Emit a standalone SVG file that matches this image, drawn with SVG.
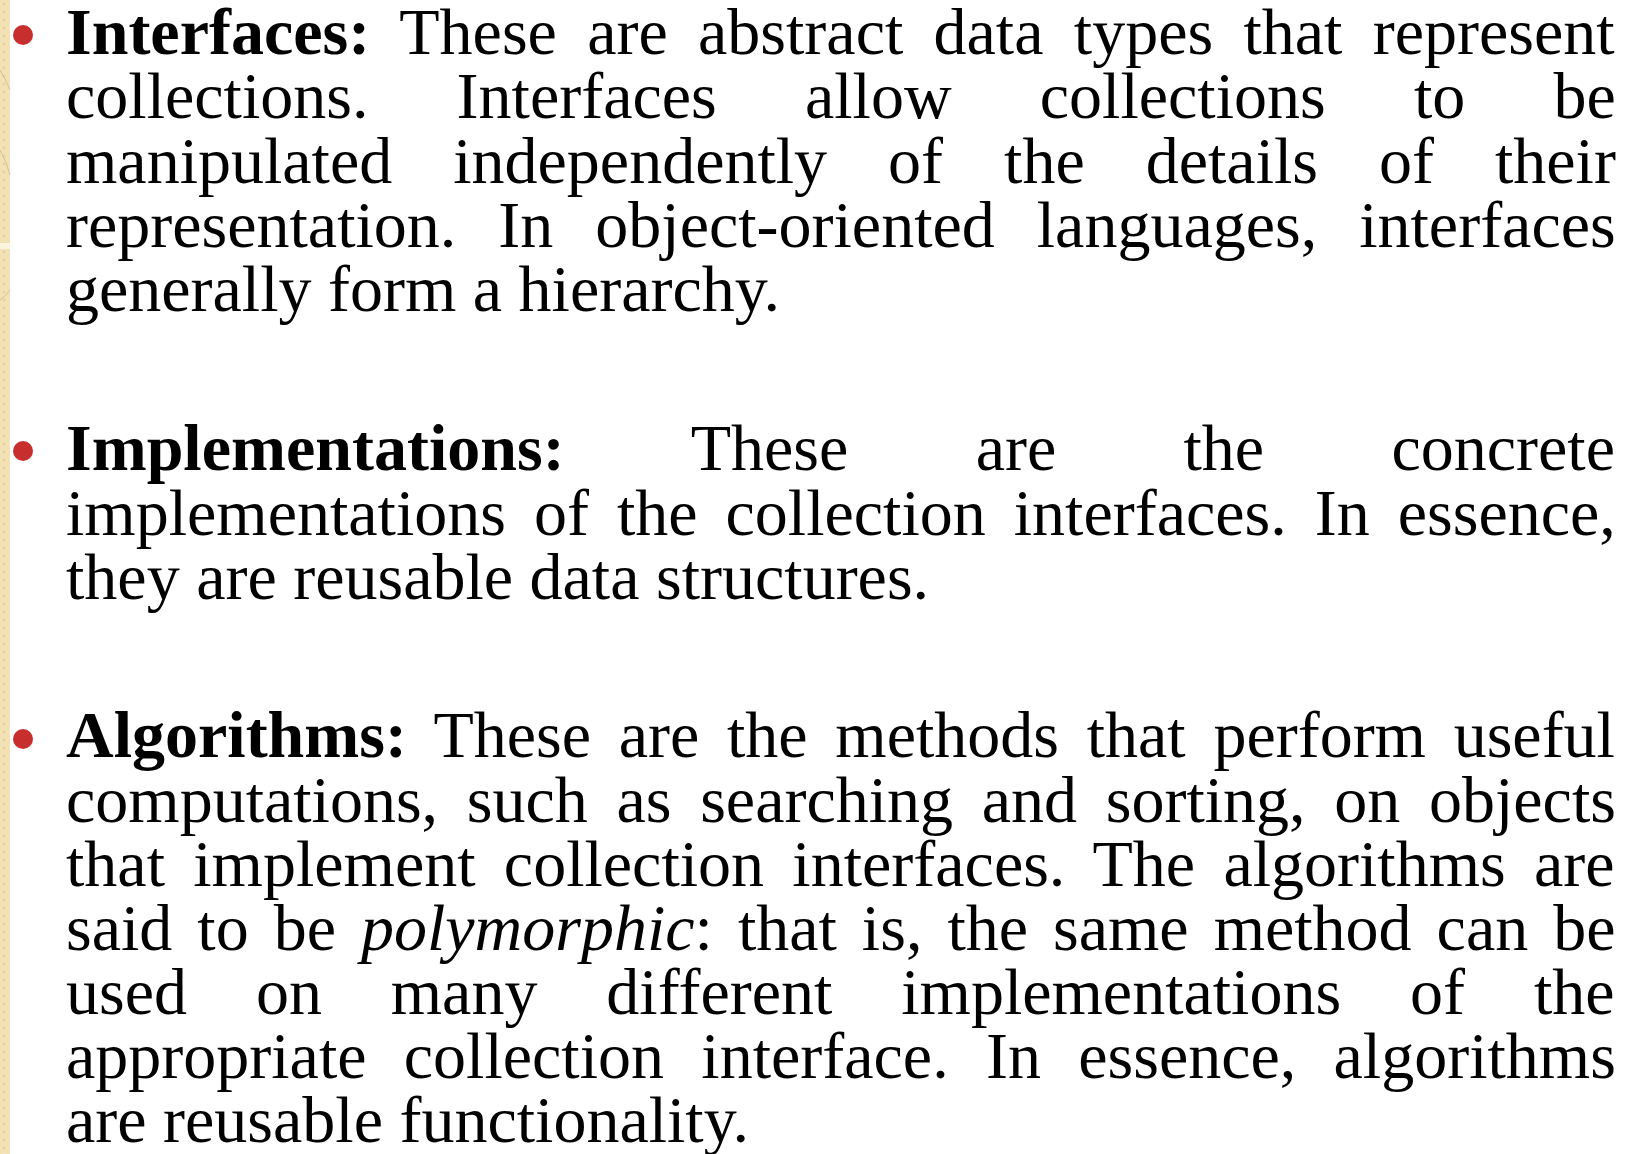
<svg xmlns="http://www.w3.org/2000/svg" width="1638" height="1154" viewBox="0 0 1638 1154">
  <defs>
    <pattern id="tile" x="0" y="0" width="8" height="8" patternUnits="userSpaceOnUse">
      <rect width="8" height="8" fill="#f2e1b3"/>
      <rect x="2" y="2" width="4" height="4" fill="#e9d49e" stroke="#f7ebc8" stroke-width="0.6"/>
    </pattern>
  </defs>
  <style>
    .t { font-family: "Liberation Serif", "Times New Roman", serif; font-size: 66px; fill: #000; }
    .b { font-weight: bold; }
    .i { font-style: italic; }
    .dot { fill: #c62f2e; }
  </style>
  <rect width="1638" height="1154" fill="#ffffff"/>
  <g id="strip">
    <rect x="0" y="0" width="10" height="1154" fill="url(#tile)"/>
    <rect x="0" y="243" width="10" height="6" fill="#fbf3dc"/>
    <path d="M0 70 Q6 80 10 90" fill="none" stroke="#c9b994" stroke-width="0.8"/>
    <path d="M0 150 Q6 160 10 175" fill="none" stroke="#c9b994" stroke-width="0.8"/>
    <path d="M0 300 Q6 296 10 290" fill="none" stroke="#c9b994" stroke-width="0.8"/>
  </g>
  <g id="bullets">
    <circle class="dot" cx="23" cy="35" r="10"/>
    <circle class="dot" cx="23" cy="451" r="10"/>
    <circle class="dot" cx="23" cy="739" r="10"/>
  </g>
  <g id="para-interfaces">
    <text class="t" x="66" y="54" word-spacing="13.8"><tspan class="b">Interfaces:</tspan> These are abstract data types that represent</text>
    <text class="t" x="66" y="118" word-spacing="71.7">collections. Interfaces allow collections to be</text>
    <text class="t" x="66" y="183" word-spacing="44.5">manipulated independently of the details of their</text>
    <text class="t" x="66" y="247" word-spacing="25.5">representation. In object-oriented languages, interfaces</text>
    <text class="t" x="66" y="311">generally form a hierarchy.</text>
  </g>
  <g id="para-implementations">
    <text class="t" x="66" y="470" word-spacing="110.8"><tspan class="b">Implementations:</tspan> These are the concrete</text>
    <text class="t" x="66" y="535" word-spacing="11.5">implementations of the collection interfaces. In essence,</text>
    <text class="t" x="66" y="599">they are reusable data structures.</text>
  </g>
  <g id="para-algorithms">
    <text class="t" x="66" y="757" word-spacing="11.2"><tspan class="b">Algorithms:</tspan> These are the methods that perform useful</text>
    <text class="t" x="66" y="822" word-spacing="12.2">computations, such as searching and sorting, on objects</text>
    <text class="t" x="66" y="886" word-spacing="11.8">that implement collection interfaces. The algorithms are</text>
    <text class="t" x="66" y="950" word-spacing="8.5">said to be <tspan class="i">polymorphic</tspan>: that is, the same method can be</text>
    <text class="t" x="66" y="1014" word-spacing="52.4">used on many different implementations of the</text>
    <text class="t" x="66" y="1078" word-spacing="20.8">appropriate collection interface. In essence, algorithms</text>
    <text class="t" x="66" y="1142">are reusable functionality.</text>
  </g>
</svg>
